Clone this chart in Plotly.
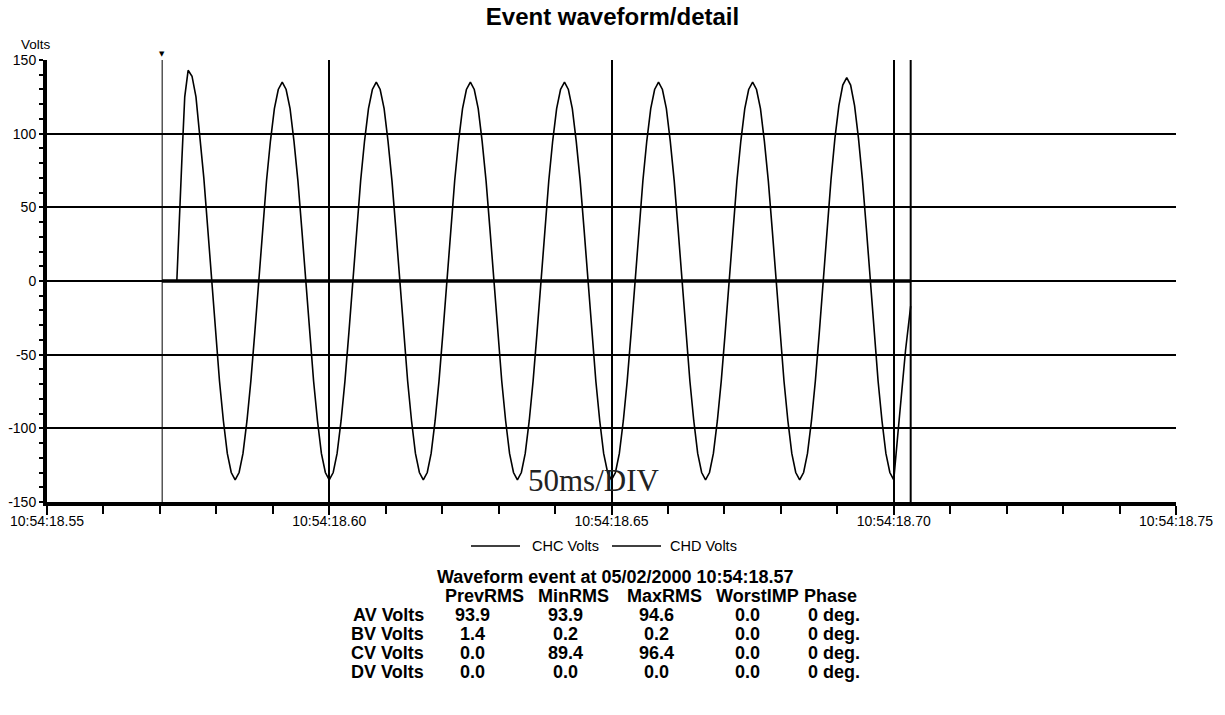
import pandas as pd
import plotly.graph_objects as go

# ---------------- data ----------------
BASE = "2000-05-02 10:54:18.55"
x_range_ms = [0, 200]                 # 10:54:18.55 .. 10:54:18.75
x_tick_ms = [0, 50, 100, 150, 200]
x_tick_text = ["10:54:18.55", "10:54:18.60", "10:54:18.65", "10:54:18.70", "10:54:18.75"]
trigger_ms = 20.4                     # event time 10:54:18.57
cursor_ms = 153.0                     # end of record

# CHC Volts waveform (ms after 10:54:18.55, volts)
chc_ms = [20.4, 23.0, 23.9, 24.4,
          25.00, 25.69, 26.39, 27.08, 27.78, 28.47, 29.17, 29.86, 30.56, 31.25, 31.94, 32.64,
          33.33, 34.03, 34.72, 35.42, 36.11, 36.81, 37.50, 38.19, 38.89, 39.58, 40.28, 40.97,
          41.67, 42.36, 43.06, 43.75, 44.45, 45.14, 45.84, 46.53, 47.23, 47.92, 48.61, 49.31,
          50.00, 50.70, 51.39, 52.09, 52.78, 53.48, 54.17, 54.86, 55.56, 56.25, 56.95, 57.64,
          58.33, 59.02, 59.72, 60.41, 61.11, 61.80, 62.50, 63.19, 63.89, 64.58, 65.27, 65.97,
          66.66, 67.36, 68.05, 68.75, 69.44, 70.14, 70.83, 71.52, 72.22, 72.91, 73.61, 74.30,
          75.00, 75.69, 76.39, 77.08, 77.78, 78.47, 79.17, 79.86, 80.56, 81.25, 81.94, 82.64,
          83.33, 84.03, 84.72, 85.42, 86.11, 86.81, 87.50, 88.19, 88.89, 89.58, 90.28, 90.97,
          91.67, 92.36, 93.06, 93.75, 94.45, 95.14, 95.84, 96.53, 97.23, 97.92, 98.61, 99.31,
          100.00, 100.70, 101.39, 102.09, 102.78, 103.48, 104.17, 104.86, 105.56, 106.25, 106.95, 107.64,
          108.33, 109.02, 109.72, 110.41, 111.11, 111.80, 112.50, 113.19, 113.89, 114.58, 115.27, 115.97,
          116.66, 117.36, 118.05, 118.75, 119.44, 120.14, 120.83, 121.52, 122.22, 122.91, 123.61, 124.30,
          125.00, 125.69, 126.39, 127.08, 127.78, 128.47, 129.17, 129.86, 130.56, 131.25, 131.94, 132.64,
          133.33, 134.03, 134.72, 135.42, 136.11, 136.81, 137.50, 138.19, 138.89, 139.58, 140.28, 140.97,
          141.67, 142.36, 143.06, 143.75, 144.45, 145.14, 145.84, 146.53, 147.23, 147.92, 148.61, 149.31,
          150.00, 150.70, 151.39, 152.09, 153.00]
chc_v = [0, 0, 83, 125,
         143, 139, 125, 100, 70, 36, 0, -35, -68, -95, -117, -130,
         -135, -130, -117, -95, -68, -35, 0, 35, 68, 95, 117, 130,
         135, 130, 117, 95, 68, 35, 0, -35, -68, -95, -117, -130,
         -135, -130, -117, -95, -68, -35, 0, 35, 68, 95, 117, 130,
         135, 130, 117, 95, 68, 35, 0, -35, -68, -95, -117, -130,
         -135, -130, -117, -95, -68, -35, 0, 35, 68, 95, 117, 130,
         135, 130, 117, 95, 68, 35, 0, -35, -68, -95, -117, -130,
         -135, -130, -117, -95, -68, -35, 0, 35, 68, 95, 117, 130,
         135, 130, 117, 95, 68, 35, 0, -35, -68, -95, -117, -130,
         -135, -130, -117, -95, -68, -35, 0, 35, 68, 95, 117, 130,
         135, 130, 117, 95, 68, 35, 0, -35, -68, -95, -117, -130,
         -135, -130, -117, -95, -68, -35, 0, 35, 68, 95, 117, 130,
         135, 130, 117, 95, 68, 35, 0, -35, -68, -95, -117, -130,
         -135, -130, -117, -95, -68, -35, 0, 36, 69, 97, 119, 133,
         138, 133, 119, 97, 69, 36, 0, -35, -68, -95, -117, -130,
         -135, -105, -75, -47, -17]

# CHD Volts (flat)
chd_ms = [20.4, 153.0]
chd_v = [0, 0]

y_ticks = [-150, -100, -50, 0, 50, 100, 150]
y_tick_text = ["-150", "-100", "-50", "0", "50", "100", "150"]

series_names = ["CHC Volts", "CHD Volts"]

table_title = "Waveform event at 05/02/2000 10:54:18.57"
col_headers = ["PrevRMS", "MinRMS", "MaxRMS", "WorstIMP", "Phase"]
row_labels = ["AV Volts", "BV Volts", "CV Volts", "DV Volts"]
prev_rms = ["93.9", "1.4", "0.0", "0.0"]
min_rms = ["93.9", "0.2", "89.4", "0.0"]
max_rms = ["94.6", "0.2", "96.4", "0.0"]
worst_imp = ["0.0", "0.0", "0.0", "0.0"]
phase = ["0 deg.", "0 deg.", "0 deg.", "0 deg."]

# ---------------- helpers ----------------
base = pd.Timestamp(BASE)


def t(ms_list):
    return [(base + pd.Timedelta(milliseconds=m)).strftime("%Y-%m-%d %H:%M:%S.%f") for m in ms_list]


W, H = 1225, 715
L, R, T, B = 47, 1176, 60, 502


def px(xp):
    return (xp - L) / (R - L)


def py(yp):
    return (B - yp) / (B - T)


FONT = "Arial, Liberation Sans, sans-serif"

fig = go.Figure()
fig.add_trace(go.Scatter(x=t(chc_ms), y=chc_v, mode="lines", name=series_names[0],
                         showlegend=False, line=dict(color="black", width=1.6)))
fig.add_trace(go.Scatter(x=t(chd_ms), y=chd_v, mode="lines", name=series_names[1],
                         showlegend=False, line=dict(color="black", width=3.5)))

shapes = [
    dict(type="line", xref="x", yref="paper", x0=t([trigger_ms])[0], x1=t([trigger_ms])[0],
         y0=0, y1=1, line=dict(color="black", width=1)),
    dict(type="line", xref="x", yref="paper", x0=t([cursor_ms])[0], x1=t([cursor_ms])[0],
         y0=0, y1=1, line=dict(color="black", width=2)),
]

ann = []
# trigger marker above the plot
ann.append(dict(text="▼", x=t([trigger_ms])[0], xref="x", y=py(54), yref="paper",
                showarrow=False, font=dict(family="DejaVu Sans, sans-serif", size=7, color="black"),
                xanchor="center", yanchor="middle"))
ann.append(dict(text="Volts", x=px(36), y=py(45), xref="paper", yref="paper",
                showarrow=False, font=dict(family=FONT, size=13.5, color="black"),
                xanchor="center", yanchor="middle"))
ann.append(dict(text="50ms/DIV", x=px(594), y=py(480), xref="paper", yref="paper",
                showarrow=False, font=dict(family="Times New Roman, Liberation Serif, serif",
                                           size=31, color="#222222"),
                xanchor="center", yanchor="middle"))

# legend
leg_y = 546
leg_line_x = [(471, 520), (612, 661)]
leg_text_x = [530, 668]
for i, nm in enumerate(series_names):
    shapes.append(dict(type="line", xref="paper", yref="paper",
                       x0=px(leg_line_x[i][0]), x1=px(leg_line_x[i][1]), y0=py(leg_y), y1=py(leg_y),
                       line=dict(color="black", width=1.3)))
    ann.append(dict(text=nm, x=px(leg_text_x[i]), y=py(leg_y), xref="paper", yref="paper",
                    showarrow=False, font=dict(family=FONT, size=14.5, color="black"),
                    xanchor="left", yanchor="middle"))

bold = dict(family=FONT, size=18, color="black")
ann.append(dict(text="<b>%s</b>" % table_title, x=px(615.5), y=py(577), xref="paper", yref="paper",
                showarrow=False, font=bold, xanchor="center", yanchor="middle"))
hdr_x = [484, 573, 664, 757, 802]
for i, h in enumerate(col_headers):
    anc = "left" if i == 4 else "center"
    ann.append(dict(text="<b>%s</b>" % h, x=px(hdr_x[i]), y=py(596), xref="paper", yref="paper",
                    showarrow=False, font=bold, xanchor=anc, yanchor="middle"))
row_y = [615, 634, 653, 672]
val_x = [472, 565, 656, 747]
cols = [prev_rms, min_rms, max_rms, worst_imp]
for r, lab in enumerate(row_labels):
    ann.append(dict(text="<b>%s</b>" % lab, x=px(426), y=py(row_y[r]), xref="paper", yref="paper",
                    showarrow=False, font=bold, xanchor="right", yanchor="middle"))
    for c, col in enumerate(cols):
        ann.append(dict(text="<b>%s</b>" % col[r], x=px(val_x[c]), y=py(row_y[r]), xref="paper",
                        yref="paper", showarrow=False, font=bold, xanchor="center", yanchor="middle"))
    ann.append(dict(text="<b>%s</b>" % phase[r], x=px(806), y=py(row_y[r]), xref="paper",
                    yref="paper", showarrow=False, font=bold, xanchor="left", yanchor="middle"))

fig.update_layout(
    width=W, height=H,
    margin=dict(l=L, r=W - R, t=T, b=H - B, autoexpand=False),
    paper_bgcolor="white", plot_bgcolor="white",
    font=dict(family=FONT, size=14, color="black"),
    title=dict(text="<b>Event waveform/detail</b>", x=0.5, xanchor="center", y=1 - 17 / H,
               yanchor="middle", font=dict(family=FONT, size=24, color="black")),
    showlegend=False,
    shapes=shapes,
    annotations=ann,
    xaxis=dict(
        type="date",
        range=t(x_range_ms),
        tickmode="array", tickvals=t(x_tick_ms), ticktext=x_tick_text,
        showgrid=True, gridcolor="black", gridwidth=2,
        showline=True, linecolor="black", linewidth=4,
        ticks="outside", ticklen=9, tickwidth=2, tickcolor="black",
        ticklabelstandoff=-6,
        minor=dict(tickmode="linear", tick0=BASE, dtick=10, ticks="outside", ticklen=8,
                   tickwidth=1.5, tickcolor="black", showgrid=False),
        tickfont=dict(family=FONT, size=14, color="black"),
        zeroline=False,
    ),
    yaxis=dict(
        range=[-150, 150],
        tickmode="array", tickvals=y_ticks, ticktext=y_tick_text,
        showgrid=True, gridcolor="black", gridwidth=2,
        showline=True, linecolor="black", linewidth=4,
        ticks="outside", ticklen=4, tickwidth=1.5, tickcolor="black",
        minor=dict(tickmode="linear", tick0=0, dtick=10, ticks="outside", ticklen=4,
                   tickwidth=1.5, tickcolor="black", showgrid=False),
        tickfont=dict(family=FONT, size=14, color="black"),
        zeroline=False,
    ),
)

fig.write_html("out.html")
